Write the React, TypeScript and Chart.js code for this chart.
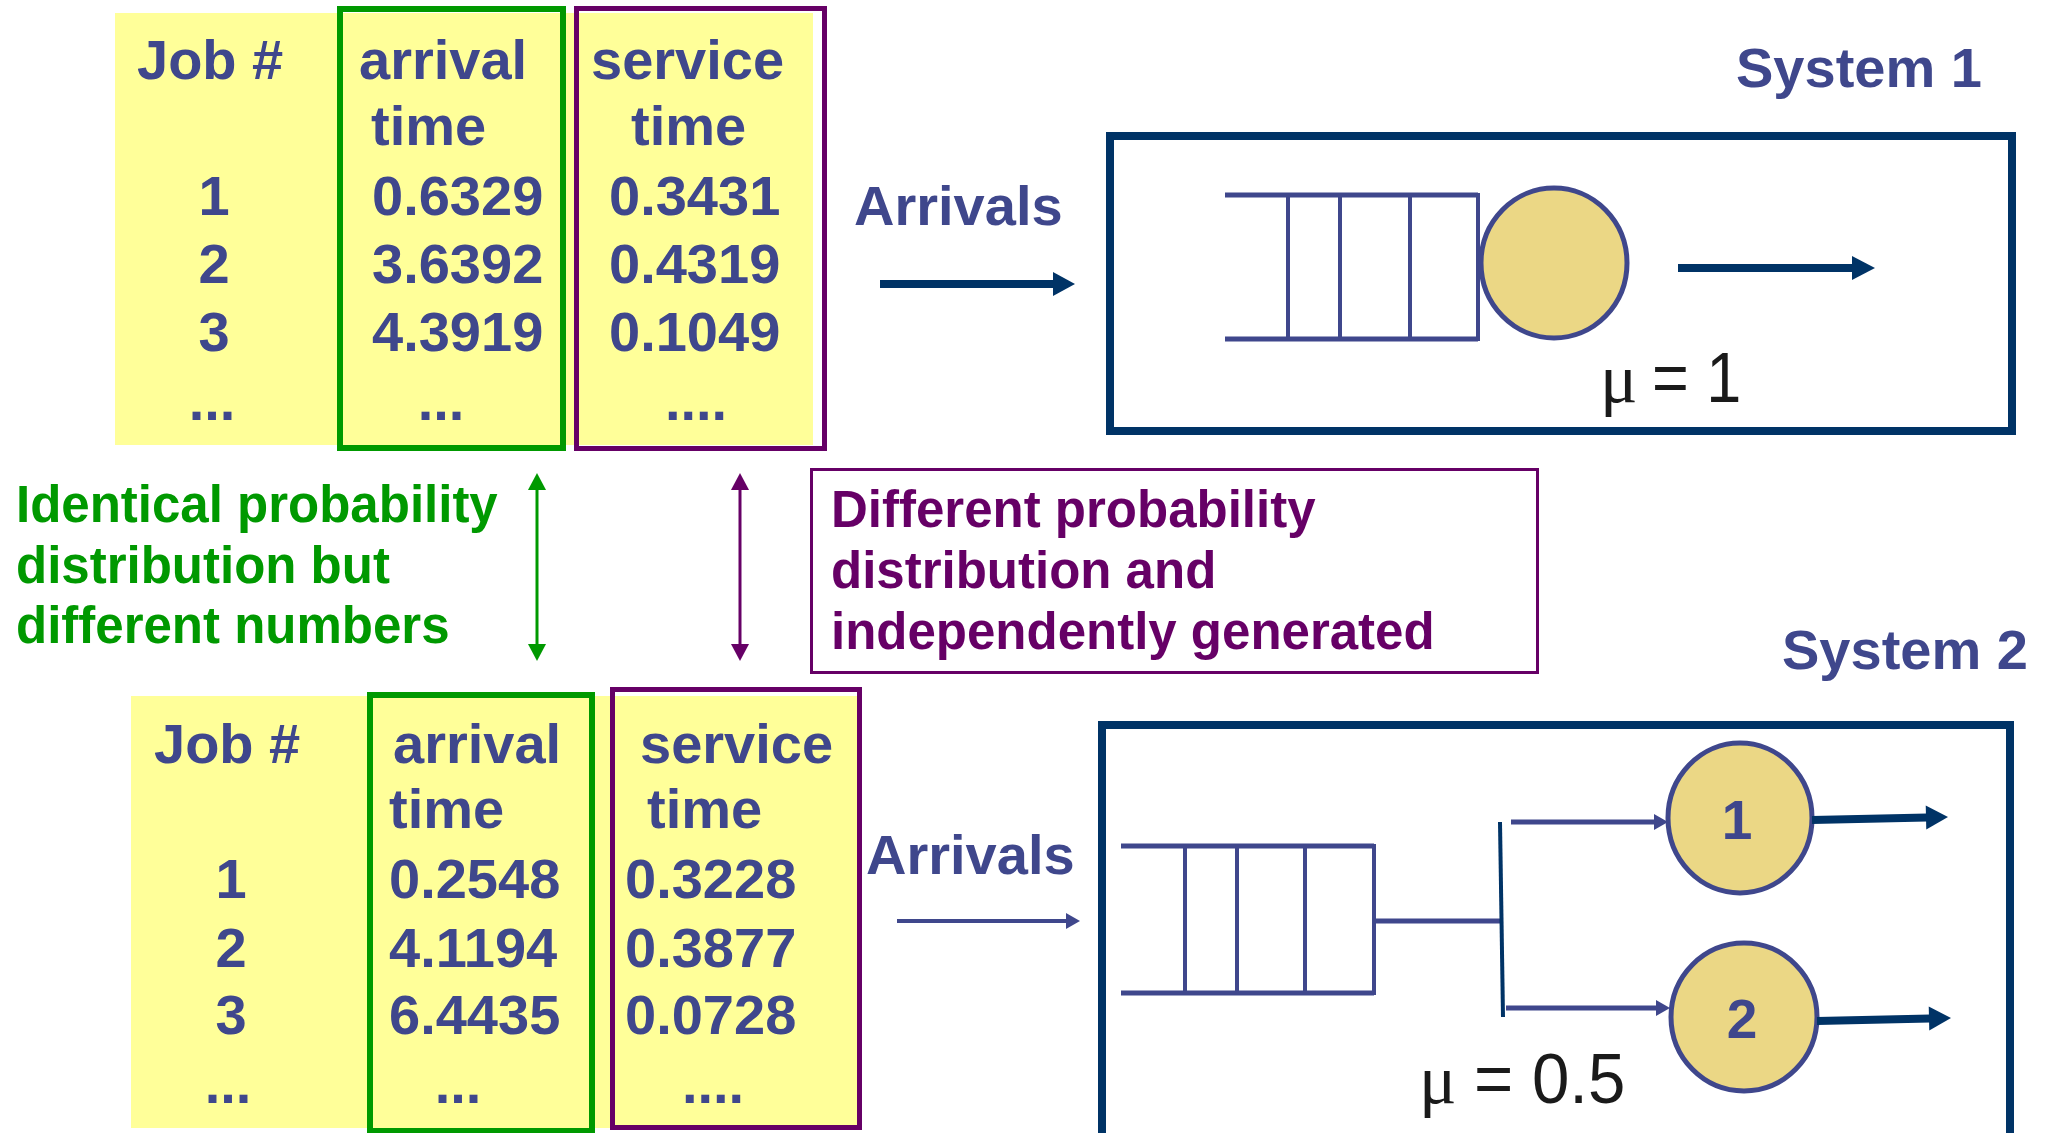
import React, { useEffect, useRef } from "react";
import { Chart, registerables } from "chart.js";

Chart.register(...registerables);

// ---------- content ----------
const jobNumbers = ["1", "2", "3"];
const system1Arrival = ["0.6329", "3.6392", "4.3919"];
const system1Service = ["0.3431", "0.4319", "0.1049"];
const system2Arrival = ["0.2548", "4.1194", "6.4435"];
const system2Service = ["0.3228", "0.3877", "0.0728"];
const headerJob = "Job #";
const headerArrival = ["arrival", "time"];
const headerService = ["service", "time"];
const ellipsis = ["...", "...", "...."];
const greenNote = ["Identical probability", "distribution but", "different numbers"];
const purpleNote = ["Different probability", "distribution and", "independently generated"];
const systemLabels = ["System 1", "System 2"];
const arrivalsLabel = "Arrivals";
const serviceRates = ["1", "0.5"];
const serverLabels = ["1", "2"];

// ---------- styles ----------
const W = 2051;
const H = 1133;
const TEXT = "#3F478C";
const NAVY = "#003366";
const GREEN = "#009900";
const PURPLE = "#660066";
const YELLOW = "#FFFF99";
const SERVER = "#EBD785";
const SANS = "'Liberation Sans', Arial, sans-serif";
const SERIF = "'Liberation Serif', 'Times New Roman', serif";

type TableLayout = {
  yellow: number[];
  green: number[];
  purple: number[];
  jobX: number;
  arrX: number;
  arrTimeX: number;
  srvX: number;
  srvTimeX: number;
  head1: number;
  head2: number;
  rows: number[];
  jobCenter: number;
  arrLeft: number;
  srvLeft: number;
  dotsY: number;
  dotCenters: number[];
};

const table1: TableLayout = {
  yellow: [115, 13, 813, 445],
  green: [340, 9, 563, 448],
  purple: [576.5, 8.5, 824.5, 448.5],
  jobX: 137, arrX: 359, arrTimeX: 371, srvX: 591, srvTimeX: 631,
  head1: 79, head2: 145,
  rows: [215, 283, 351],
  jobCenter: 214, arrLeft: 372, srvLeft: 609,
  dotsY: 420, dotCenters: [212, 441, 696],
};

const table2: TableLayout = {
  yellow: [131, 696, 860, 1128],
  green: [370, 695, 592, 1131],
  purple: [612.5, 689.5, 859.5, 1127.5],
  jobX: 154, arrX: 393, arrTimeX: 389, srvX: 640, srvTimeX: 647,
  head1: 763, head2: 828,
  rows: [898, 967, 1034],
  jobCenter: 231, arrLeft: 389, srvLeft: 625,
  dotsY: 1103, dotCenters: [228, 458, 713],
};

const diagramPlugin = {
  id: "queueDiagram",
  afterDraw(chart: any) {
    const ctx: CanvasRenderingContext2D = chart.ctx;
    const xs = chart.scales.x;
    const ys = chart.scales.y;
    const X = (v: number) => xs.getPixelForValue(v);
    const Y = (v: number) => ys.getPixelForValue(v);

    const text = (s: string, x: number, y: number, font: string, color: string, align: CanvasTextAlign = "left", sx = 1) => {
      ctx.save();
      ctx.font = font;
      ctx.fillStyle = color;
      ctx.textAlign = align;
      ctx.textBaseline = "alphabetic";
      ctx.translate(X(x), Y(y));
      ctx.scale(sx, 1);
      ctx.fillText(s, 0, 0);
      ctx.restore();
    };
    const rect = (r: number[], color: string, lw: number) => {
      ctx.strokeStyle = color;
      ctx.lineWidth = lw;
      ctx.strokeRect(X(r[0]), Y(r[1]), X(r[2]) - X(r[0]), Y(r[3]) - Y(r[1]));
    };
    const line = (x1: number, y1: number, x2: number, y2: number, color: string, lw: number) => {
      ctx.strokeStyle = color;
      ctx.lineWidth = lw;
      ctx.lineCap = "butt";
      ctx.beginPath();
      ctx.moveTo(X(x1), Y(y1));
      ctx.lineTo(X(x2), Y(y2));
      ctx.stroke();
    };
    const head = (tx: number, ty: number, dx: number, dy: number, len: number, half: number, color: string) => {
      const n = Math.hypot(dx, dy);
      const ux = dx / n, uy = dy / n;
      const bx = tx - ux * len, by = ty - uy * len;
      ctx.fillStyle = color;
      ctx.beginPath();
      ctx.moveTo(X(tx), Y(ty));
      ctx.lineTo(X(bx - uy * half), Y(by + ux * half));
      ctx.lineTo(X(bx + uy * half), Y(by - ux * half));
      ctx.closePath();
      ctx.fill();
    };
    const arrow = (x1: number, y1: number, x2: number, y2: number, color: string, lw: number, len: number, half: number) => {
      const dx = x2 - x1, dy = y2 - y1;
      const n = Math.hypot(dx, dy);
      line(x1, y1, x2 - (dx / n) * (len - 1), y2 - (dy / n) * (len - 1), color, lw);
      head(x2, y2, dx, dy, len, half, color);
    };
    const ellipse = (cx: number, cy: number, rx: number, ry: number) => {
      ctx.beginPath();
      ctx.ellipse(X(cx), Y(cy), Math.abs(X(cx + rx) - X(cx)), Math.abs(Y(cy + ry) - Y(cy)), 0, 0, Math.PI * 2);
      ctx.fillStyle = SERVER;
      ctx.fill();
      ctx.strokeStyle = TEXT;
      ctx.lineWidth = 5;
      ctx.stroke();
    };

    const bold56 = `bold 56px ${SANS}`;

    // ---------- tables ----------
    const drawTable = (t: TableLayout, arr: string[], srv: string[]) => {
      ctx.fillStyle = YELLOW;
      ctx.fillRect(X(t.yellow[0]), Y(t.yellow[1]), X(t.yellow[2]) - X(t.yellow[0]), Y(t.yellow[3]) - Y(t.yellow[1]));
      rect(t.green, GREEN, 6);
      rect(t.purple, PURPLE, 5);
      text(headerJob, t.jobX, t.head1, bold56, TEXT);
      text(headerArrival[0], t.arrX, t.head1, bold56, TEXT);
      text(headerArrival[1], t.arrTimeX, t.head2, bold56, TEXT);
      text(headerService[0], t.srvX, t.head1, bold56, TEXT);
      text(headerService[1], t.srvTimeX, t.head2, bold56, TEXT);
      t.rows.forEach((y, i) => {
        text(jobNumbers[i], t.jobCenter, y, bold56, TEXT, "center");
        text(arr[i], t.arrLeft, y, bold56, TEXT);
        text(srv[i], t.srvLeft, y, bold56, TEXT);
      });
      ellipsis.forEach((d, i) => text(d, t.dotCenters[i], t.dotsY, bold56, TEXT, "center"));
    };
    drawTable(table1, system1Arrival, system1Service);
    drawTable(table2, system2Arrival, system2Service);

    // ---------- notes ----------
    const bold51 = `bold 51px ${SANS}`;
    [522, 583, 643].forEach((y, i) => text(greenNote[i], 16, y, bold51, GREEN));
    rect([811.5, 469.5, 1537.5, 672.5], PURPLE, 3);
    [527, 588, 649].forEach((y, i) => text(purpleNote[i], 831, y, bold51, PURPLE));

    // double arrows
    const dbl = (x: number, color: string) => {
      line(x, 488, x, 646, color, 3);
      head(x, 473, 0, -1, 17, 9, color);
      head(x, 661, 0, 1, 17, 9, color);
    };
    dbl(537, GREEN);
    dbl(740, PURPLE);

    // ---------- system 1 ----------
    text(systemLabels[0], 1736, 87, bold56, TEXT);
    text(arrivalsLabel, 854, 225, bold56, TEXT);
    arrow(880, 284, 1075, 284, NAVY, 8, 22, 12);
    rect([1110, 136, 2012, 431], NAVY, 8);
    line(1225, 195, 1478, 195, TEXT, 5);
    line(1225, 339, 1478, 339, TEXT, 5);
    [1288, 1340, 1410, 1478].forEach((x) => line(x, 193, x, 341, TEXT, 4));
    ellipse(1554, 263, 73, 75);
    arrow(1678, 268, 1875, 268, NAVY, 8, 23, 12);
    text("\u03bc", 1600, 402, `70px ${SERIF}`, "#1a1a1a");
    text("= " + serviceRates[0], 1652, 402, `70px ${SANS}`, "#1a1a1a", "left", 0.9);

    // ---------- system 2 ----------
    text(systemLabels[1], 1782, 669, bold56, TEXT);
    text(arrivalsLabel, 866, 874, bold56, TEXT);
    arrow(897, 921, 1080, 921, TEXT, 4, 14, 8);
    ctx.strokeStyle = NAVY;
    ctx.lineWidth = 8;
    ctx.beginPath();
    ctx.moveTo(X(1102), Y(1145));
    ctx.lineTo(X(1102), Y(725));
    ctx.lineTo(X(2010), Y(725));
    ctx.lineTo(X(2010), Y(1145));
    ctx.stroke();
    line(1121, 846, 1374, 846, TEXT, 5);
    line(1121, 993, 1374, 993, TEXT, 5);
    [1185, 1237, 1305, 1374].forEach((x) => line(x, 844, x, 995, TEXT, 4));
    line(1374, 921, 1503, 921, TEXT, 5);
    line(1500, 822, 1503, 1017, NAVY, 4);
    arrow(1511, 822, 1668, 822, TEXT, 5, 14, 8);
    arrow(1506, 1008, 1670, 1008, TEXT, 5, 14, 8);
    ellipse(1740, 818, 72, 75);
    ellipse(1744, 1017, 73, 74);
    text(serverLabels[0], 1737, 839, `bold 55px ${SANS}`, TEXT, "center");
    text(serverLabels[1], 1742, 1038, `bold 55px ${SANS}`, TEXT, "center");
    arrow(1812, 820, 1948, 817, NAVY, 8, 22, 12);
    arrow(1817, 1021, 1951, 1018, NAVY, 8, 22, 12);
    text("\u03bc", 1419, 1103, `70px ${SERIF}`, "#1a1a1a");
    text("= " + serviceRates[1], 1474, 1103, `70px ${SANS}`, "#1a1a1a", "left", 0.96);
  },
};

export default function App() {
  const ref = useRef<HTMLCanvasElement | null>(null);
  useEffect(() => {
    if (!ref.current) return;
    const chart = new Chart(ref.current, {
      type: "scatter",
      data: { datasets: [{ data: [] }] },
      options: {
        responsive: false,
        animation: false,
        devicePixelRatio: 1,
        layout: { padding: 0 },
        plugins: { legend: { display: false }, tooltip: { enabled: false } },
        scales: {
          x: { type: "linear", min: 0, max: W, display: false },
          y: { type: "linear", min: 0, max: H, reverse: true, display: false },
        },
      },
      plugins: [diagramPlugin],
    });
    return () => chart.destroy();
  }, []);
  return (
    <div style={{ position: "absolute", left: 0, top: 0, width: W, height: H, background: "#fff" }}>
      <canvas ref={ref} width={W} height={H} />
    </div>
  );
}
